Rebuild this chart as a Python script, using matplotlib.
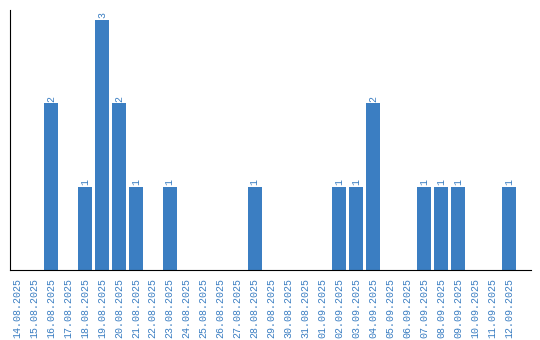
import matplotlib
matplotlib.use("Agg")
import matplotlib.pyplot as plt

dates = ["14.08.2025", "15.08.2025", "16.08.2025", "17.08.2025", "18.08.2025",
         "19.08.2025", "20.08.2025", "21.08.2025", "22.08.2025", "23.08.2025",
         "24.08.2025", "25.08.2025", "26.08.2025", "27.08.2025", "28.08.2025",
         "29.08.2025", "30.08.2025", "31.08.2025", "01.09.2025", "02.09.2025",
         "03.09.2025", "04.09.2025", "05.09.2025", "06.09.2025", "07.09.2025",
         "08.09.2025", "09.09.2025", "10.09.2025", "11.09.2025", "12.09.2025"]
counts = [0, 0, 2, 0, 1, 3, 2, 1, 0, 1,
          0, 0, 0, 0, 1, 0, 0, 0, 0, 1,
          1, 2, 0, 0, 1, 1, 1, 0, 0, 1]

blue = "#3b7ec2"
mono = "Liberation Mono"

fig = plt.figure(figsize=(5.4, 3.4), dpi=100)
ax = fig.add_axes([10 / 540, 70 / 340, 521 / 540, 260 / 340])

x = list(range(len(dates)))
ax.bar(x, counts, width=0.82, color=blue)

# value labels above bars
for i, c in enumerate(counts):
    if c > 0:
        ax.text(i, c + 0.02, str(c), rotation=90, ha="center", va="bottom",
                color=blue, fontsize=7.2, family=mono)

ax.set_xlim(-0.42, 30.3)
ax.set_ylim(0, 3.12)
ax.set_xticks(x)
ax.set_xticklabels(dates, rotation=90, color=blue, fontsize=7.2, family=mono)
ax.tick_params(length=0, pad=6)
ax.set_yticks([])
ax.spines["top"].set_visible(False)
ax.spines["right"].set_visible(False)

fig.savefig("out.png", dpi=100)
